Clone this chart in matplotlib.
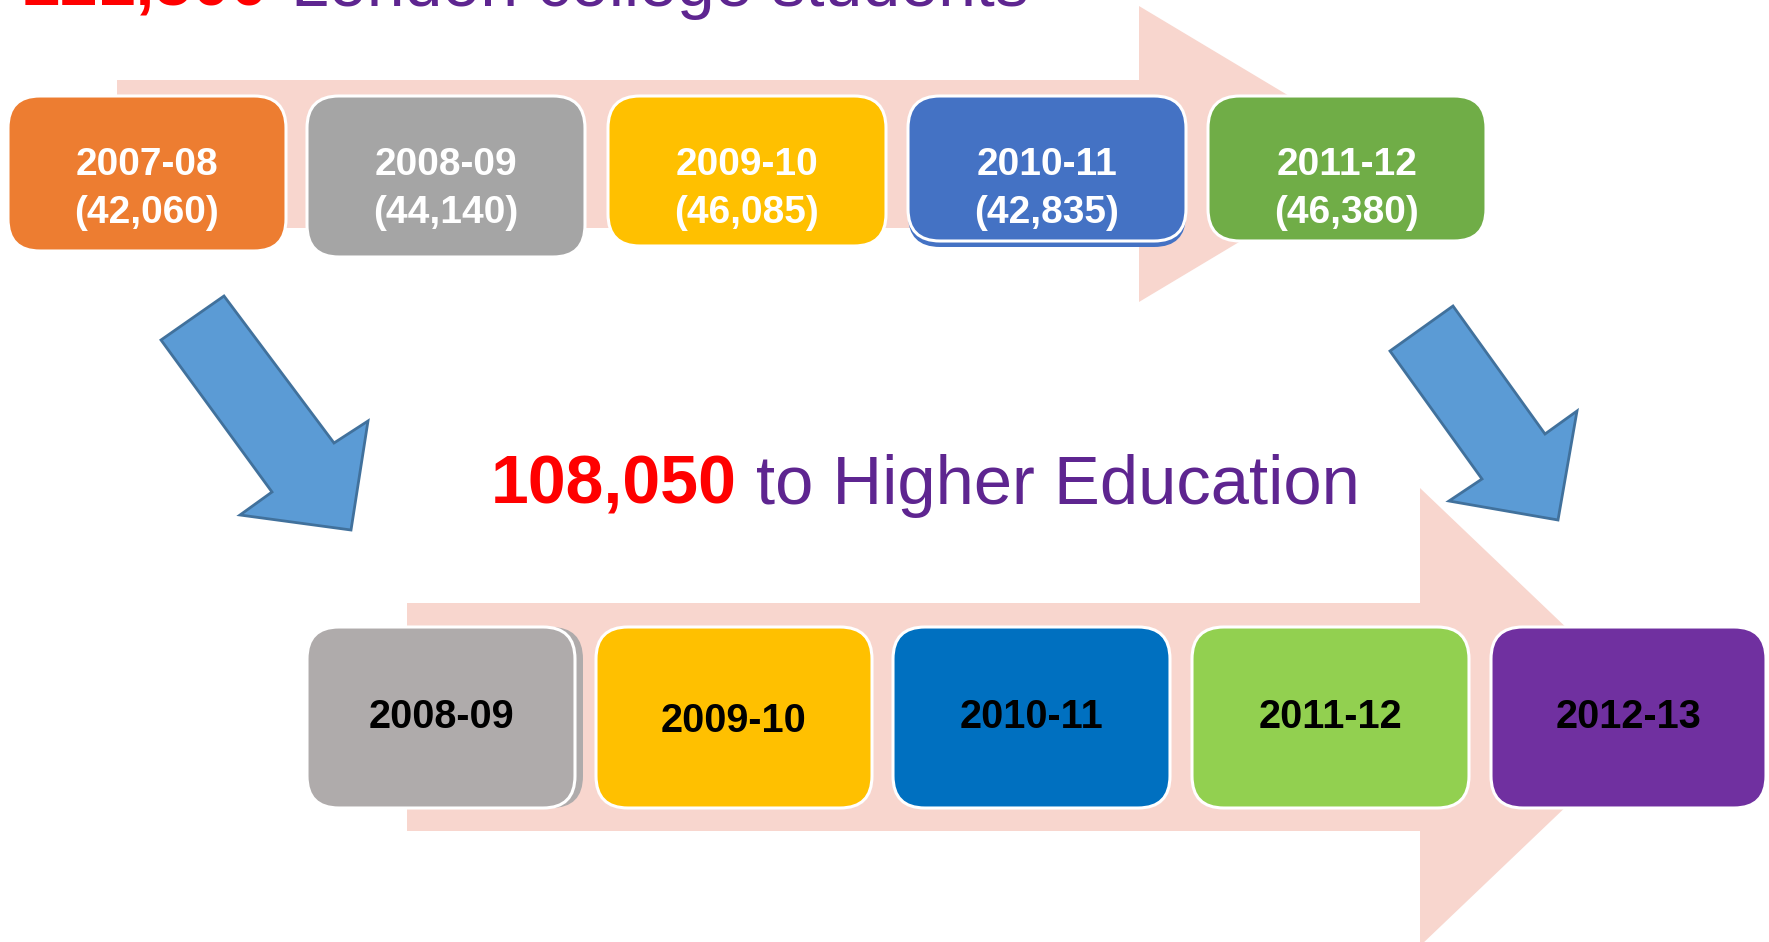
import matplotlib
matplotlib.use("Agg")
import matplotlib.pyplot as plt
from matplotlib.patches import FancyBboxPatch, Polygon

# ---- data ----
college_years = ['2007-08', '2008-09', '2009-10', '2010-11', '2011-12']
college_students = [42060, 44140, 46085, 42835, 46380]
college_colors = ['#ED7D31', '#A5A5A5', '#FFC000', '#4472C4', '#70AD47']
he_years = ['2008-09', '2009-10', '2010-11', '2011-12', '2012-13']
he_colors = ['#AFABAB', '#FFC000', '#0070C0', '#92D050', '#7030A0']
he_total = 108050
college_total = sum(college_students)

title_text = 'London college students'
he_text = 'to Higher Education'

RED = '#FF0000'
PURPLE = '#5E2590'
PINK = '#F8D6CE'
ARROW_FILL = '#5B9BD5'
ARROW_EDGE = '#41719C'
FONT = 'Liberation Sans'

W, H = 1769, 942
fig = plt.figure(figsize=(W / 100, H / 100), dpi=100)
ax = fig.add_axes([0, 0, 1, 1])
ax.set_xlim(0, W)
ax.set_ylim(H, 0)
ax.axis('off')

# ---- big pink process arrows ----
def block_arrow(x0, xb, xt, yb0, yb1, yh0, yh1):
    yc = (yb0 + yb1) / 2
    pts = [(x0, yb0), (xb, yb0), (xb, yh0), (xt, yc), (xb, yh1), (xb, yb1), (x0, yb1)]
    ax.add_patch(Polygon(pts, closed=True, facecolor=PINK, edgecolor='none', zorder=1))

block_arrow(117, 1139, 1386, 80, 228, 6, 302)
block_arrow(407, 1420, 1660, 603, 831, 488, 946)

# ---- boxes ----
def box(x, y, w, h, color, shadow=None):
    if shadow is not None:
        ax.add_patch(FancyBboxPatch((x + shadow[0], y + shadow[1]), w, h,
                                    boxstyle='round,pad=0,rounding_size=32',
                                    facecolor=color, edgecolor='none', zorder=2))
    ax.add_patch(FancyBboxPatch((x, y), w, h, boxstyle='round,pad=0,rounding_size=32',
                                facecolor=color, edgecolor='white', linewidth=2.2, zorder=3))

top_x = [8, 307, 608, 908, 1208]
top_h = [155, 161, 150, 145, 145]
top_shadow = [None, None, None, (0, 6), None]
box_w = 278
for i, (yr, n, c) in enumerate(zip(college_years, college_students, college_colors)):
    box(top_x[i], 96, box_w, top_h[i], c, top_shadow[i])
    cx = top_x[i] + box_w / 2
    ax.text(cx, 165, yr, ha='center', va='center', color='white', fontsize=28,
            fontweight='bold', family=FONT, zorder=4)
    ax.text(cx, 213, '({:,})'.format(n), ha='center', va='center', color='white',
            fontsize=28, fontweight='bold', family=FONT, zorder=4)

bot_x = [307, 596, 893, 1192, 1491]
bot_w = [268, 276, 277, 277, 275]
bot_shadow = [(8, 0), None, None, None, None]
for i, (yr, c) in enumerate(zip(he_years, he_colors)):
    box(bot_x[i], 627, bot_w[i], 181, c, bot_shadow[i])
    cx = bot_x[i] + bot_w[i] / 2
    ax.text(cx, 717 if i != 1 else 721, yr, ha='center', va='center', color='black',
            fontsize=28.5, fontweight='bold', family=FONT, zorder=4)

# ---- blue down-right arrows ----
left_arrow = [(161, 340), (224, 296), (334, 443), (368, 421), (351, 530), (240, 515), (272, 492)]
right_arrow = [(1390, 351), (1453, 306), (1545, 434), (1577, 411), (1558, 520), (1449, 501), (1482, 479)]
for pts in (left_arrow, right_arrow):
    ax.add_patch(Polygon(pts, closed=True, facecolor=ARROW_FILL, edgecolor=ARROW_EDGE,
                         linewidth=2, zorder=5))

# ---- headings ----
ax.text(23, 6, '{:,}'.format(college_total), ha='left', va='baseline', color=RED,
        fontsize=49, fontweight='bold', family=FONT, zorder=6)
ax.text(291, 6, title_text, ha='left', va='baseline', color=PURPLE,
        fontsize=49, family=FONT, zorder=6)
ax.text(491, 504, '{:,}'.format(he_total), ha='left', va='baseline', color=RED,
        fontsize=49, fontweight='bold', family=FONT, zorder=6)
ax.text(756, 504, he_text, ha='left', va='baseline', color=PURPLE,
        fontsize=49.5, family=FONT, zorder=6)

fig.savefig('out.png', dpi=100, facecolor='white')
